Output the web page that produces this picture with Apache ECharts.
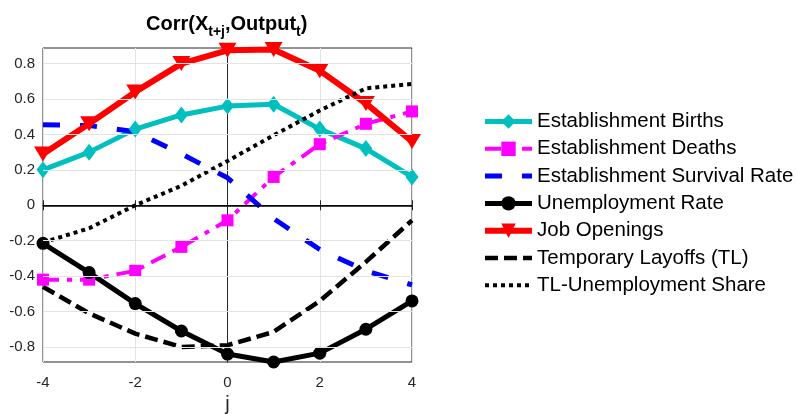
<!DOCTYPE html>
<html>
<head>
<meta charset="utf-8">
<script src="https://cdn.jsdelivr.net/npm/echarts@6/dist/echarts.min.js"></script>
<style>
  html, body { margin: 0; padding: 0; background: #fff; }
  #chart { width: 797px; height: 414px; }
</style>
</head>
<body>
<div id="chart"></div>
<script>
var jValues = [-4, -3, -2, -1, 0, 1, 2, 3, 4]

var births = [0.20, 0.30, 0.43, 0.51, 0.56, 0.57, 0.43, 0.32, 0.16]
var deaths = [-0.42, -0.42, -0.37, -0.235, -0.085, 0.16, 0.345, 0.46, 0.53]
var survival = [0.455, 0.45, 0.415, 0.29, 0.155, -0.075, -0.25, -0.37, -0.45]
var unemployment = [-0.215, -0.38, -0.555, -0.71, -0.84, -0.885, -0.835, -0.70, -0.54]
var openings = [0.29, 0.46, 0.64, 0.80, 0.875, 0.88, 0.76, 0.575, 0.36]
var tempLayoffs = [-0.46, -0.61, -0.725, -0.80, -0.79, -0.715, -0.54, -0.32, -0.085]
var tlShare = [-0.21, -0.13, 0.0, 0.11, 0.25, 0.395, 0.535, 0.66, 0.685]

var yTicks = [-0.8, -0.6, -0.4, -0.2, 0, 0.2, 0.4, 0.6, 0.8]

function pairs(vals) {
  return jValues.map(function (j, i) { return [j, vals[i]] })
}

var chart = echarts.init(document.getElementById('chart'))

var axisFont = { fontFamily: 'Liberation Sans', fontSize: 15, color: '#262626' }
var noMarker = { opacity: 0 }

var option = {
  backgroundColor: '#fff',
  animation: false,
  title: {
    text: '{b|Corr(X}{s|t+j}{b|,Output}{s|t}{b|)}',
    left: 146,
    top: 12,
    padding: 0,
    textStyle: {
      rich: {
        b: { fontFamily: 'Liberation Sans', fontSize: 20, fontWeight: 'bold', color: '#000', lineHeight: 24 },
        s: { fontFamily: 'Liberation Sans', fontSize: 14, fontWeight: 'bold', color: '#000', padding: [17, 0, 0, 0], lineHeight: 24 }
      }
    }
  },
  legend: {
    orient: 'vertical',
    left: 482,
    top: 111,
    padding: 0,
    itemWidth: 47,
    itemHeight: 18,
    itemGap: 6.3,
    textStyle: { fontFamily: 'Liberation Sans', fontSize: 20.5, color: '#000', lineHeight: 20 },
    data: [
      { name: 'Establishment Births', lineStyle: { width: 5 } },
      { name: 'Establishment Deaths', lineStyle: { width: 4 } },
      { name: 'Establishment Survival Rate', lineStyle: { width: 5 }, itemStyle: noMarker },
      { name: 'Unemployment Rate', lineStyle: { width: 5 } },
      { name: 'Job Openings', lineStyle: { width: 6 } },
      { name: 'Temporary Layoffs (TL)', lineStyle: { width: 4.5 }, itemStyle: noMarker },
      { name: 'TL-Unemployment Share', lineStyle: { width: 4 }, itemStyle: noMarker }
    ]
  },
  grid: {
    left: 43,
    top: 48,
    width: 369,
    height: 314,
    outerBoundsMode: 'none',
    containLabel: false,
    show: true,
    borderColor: '#262626',
    borderWidth: 1
  },
  xAxis: [{
    type: 'value',
    min: -4,
    max: 4,
    interval: 2,
    name: 'j',
    nameLocation: 'middle',
    nameGap: 32,
    nameTextStyle: { fontFamily: 'Liberation Sans', fontSize: 20, color: '#262626' },
    axisLine: { lineStyle: { color: '#262626' } },
    axisTick: { inside: true, length: 5, lineStyle: { color: '#262626' } },
    axisLabel: Object.assign({ margin: 13 }, axisFont),
    splitLine: { show: true, lineStyle: { color: '#e3e3e3' } }
  }, {
    type: 'value',
    position: 'top',
    min: -4,
    max: 4,
    interval: 2,
    axisLine: { lineStyle: { color: '#262626' } },
    axisTick: { inside: true, length: 5, lineStyle: { color: '#262626' } },
    axisLabel: { show: false },
    splitLine: { show: false }
  }],
  yAxis: [{
    type: 'value',
    min: -0.885,
    max: 0.888,
    axisLine: { lineStyle: { color: '#262626' } },
    axisTick: { inside: true, length: 5, customValues: yTicks, lineStyle: { color: '#262626' } },
    axisLabel: Object.assign({
      margin: 8,
      customValues: yTicks,
      formatter: function (v) { return v === 0 ? '0' : v.toFixed(1) }
    }, axisFont),
    splitLine: { show: false }
  }, {
    type: 'value',
    position: 'right',
    min: -0.885,
    max: 0.888,
    axisLine: { show: true, lineStyle: { color: '#262626' } },
    axisTick: { show: true, inside: true, length: 5, customValues: yTicks, lineStyle: { color: '#262626' } },
    axisLabel: { show: false },
    splitLine: { show: false }
  }],
  series: [{
    name: 'grid',
    type: 'line',
    data: [],
    silent: true,
    markLine: {
      silent: true,
      symbol: 'none',
      label: { show: false },
      animation: false,
      data: yTicks.map(function (v) {
        return { yAxis: v, lineStyle: v === 0 ? { color: '#000', width: 1.5, type: 'solid' } : { color: '#e3e3e3', width: 1, type: 'solid' } }
      })
    }
  }, {
    name: 'Establishment Births',
    type: 'line',
    data: pairs(births),
    symbol: 'diamond',
    symbolSize: [13, 17],
    color: '#00bfbf',
    lineStyle: { width: 5, color: '#00bfbf' }
  }, {
    name: 'Establishment Deaths',
    type: 'line',
    data: pairs(deaths),
    symbol: 'rect',
    symbolSize: 12,
    color: '#ff00ff',
    lineStyle: { width: 4, color: '#ff00ff', type: [16, 8, 5, 8] }
  }, {
    name: 'Establishment Survival Rate',
    type: 'line',
    data: pairs(survival),
    symbol: 'none',
    color: '#0000ff',
    lineStyle: { width: 5, color: '#0000ff', type: [17, 20] }
  }, {
    name: 'Unemployment Rate',
    type: 'line',
    data: pairs(unemployment),
    symbol: 'circle',
    symbolSize: 13,
    color: '#000',
    lineStyle: { width: 5, color: '#000' }
  }, {
    name: 'Job Openings',
    type: 'line',
    data: pairs(openings),
    symbol: 'triangle',
    symbolRotate: 180,
    symbolSize: [18, 15],
    color: '#ff0000',
    lineStyle: { width: 6, color: '#ff0000' }
  }, {
    name: 'Temporary Layoffs (TL)',
    type: 'line',
    data: pairs(tempLayoffs),
    symbol: 'none',
    color: '#000',
    lineStyle: { width: 4.5, color: '#000', type: [13, 6] }
  }, {
    name: 'TL-Unemployment Share',
    type: 'line',
    data: pairs(tlShare),
    symbol: 'none',
    color: '#000',
    lineStyle: { width: 4, color: '#000', type: [4, 4] }
  }]
}

chart.setOption(option)
</script>
</body>
</html>
